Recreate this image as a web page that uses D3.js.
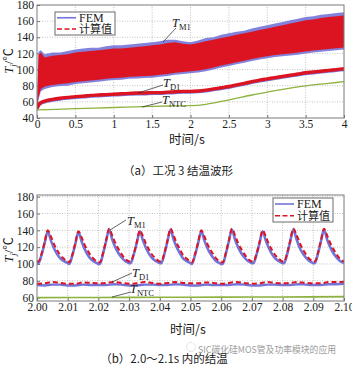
<!DOCTYPE html>
<html>
<head>
<meta charset="utf-8">
<script src="https://cdn.jsdelivr.net/npm/d3@7"></script>
<style>
body { margin: 0; background: #fff; }
text { font-family: "Liberation Serif", "Noto Sans CJK SC", serif; fill: #1a1a1a; }
.cn { font-family: "Noto Sans CJK SC", sans-serif; }
</style>
</head>
<body>
<script>
// ---------- (a) working condition 3, 0-4 s ----------
var timeA = [0, 0.02, 0.05, 0.1, 0.2, 0.3, 0.4, 0.5, 0.6, 0.7, 0.8, 0.9, 1.0, 1.1, 1.2, 1.3, 1.4, 1.5,
             1.6, 1.7, 1.8, 1.9, 2.0, 2.1, 2.2, 2.3, 2.4, 2.5, 2.6, 2.7, 2.8, 2.9, 3.0, 3.1, 3.2, 3.3,
             3.4, 3.5, 3.6, 3.7, 3.8, 3.9, 4.0];
// envelope of the MOSFET junction temperature ripple
var m1CalcHi = [52, 118, 121, 115, 117, 118, 119, 121, 122, 123, 124, 125, 126, 126, 127, 128, 129, 130,
                131, 133, 134, 132, 131, 133, 135, 137, 139, 141, 143, 145, 147, 149, 151, 153, 155, 157,
                159, 161, 162, 164, 165, 166, 167];
var m1CalcLo = [50, 66, 76, 79, 81, 82, 83, 84.5, 85.5, 86.5, 87.5, 88.5, 89.5, 90, 91, 91.5, 92, 92.5,
                93.5, 94.5, 96, 97, 98, 99, 100.5, 102.5, 105, 107, 109, 111, 113, 115, 116.5, 118, 119, 120,
                121, 122.5, 123.5, 124.5, 125.5, 126.5, 127.5];
var m1FemHi = [53, 122, 124, 119, 121, 121, 123, 125, 126, 127, 127, 129, 130, 130, 131, 132, 133, 134,
               135, 137, 137, 135, 134, 136, 139, 140, 143, 145, 147, 148, 151, 153, 155, 157, 159, 161,
               163, 165, 166, 168, 169, 170, 171];
var m1FemLo = [49, 63, 73, 76, 78.5, 79.5, 80, 82, 83, 84, 85, 86, 87, 87.5, 88.5, 89, 89.5, 90,
               91, 92, 93.5, 94.5, 95.5, 96.5, 98, 100, 102.5, 104.5, 106.5, 108.5, 110.5, 112.5, 114, 115.5, 116.5, 117.5,
               118.5, 120, 121, 122, 123, 124, 125];
var d1Calc = [52, 56, 59, 61, 63, 64.5, 65.5, 66.5, 67, 68, 68.5, 69, 69.5, 70, 70.5, 71, 71, 71.5,
              71.5, 72, 72.5, 73, 73, 73.5, 74.5, 76, 77.5, 79, 81, 83, 85, 87, 88.5, 90, 91.5, 93,
              94.5, 96, 97, 98, 99, 100, 101];
var d1Fem = [51, 54.5, 57.5, 59.5, 61.5, 63, 64, 65, 65.5, 66.5, 67, 67.5, 68, 68.5, 69, 69.5, 69.5, 70,
             70, 70.5, 71, 71.5, 71.5, 72, 73, 74.5, 76, 77.5, 79.5, 81.5, 83.5, 85.5, 87, 88.5, 90, 91.5,
             93, 94.5, 95.5, 96.5, 97.5, 98.5, 99.5];
var ntcTimeA = [0, 0.5, 1.0, 1.5, 1.8, 2.0, 2.2, 2.4, 2.6, 2.8, 3.0, 3.2, 3.4, 3.6, 3.8, 4.0];
var ntcA = [50, 51.5, 53, 54.5, 55, 55.3, 57, 60.5, 64.5, 68.5, 72, 75.5, 78.5, 81, 83, 85];

var xTicksA = [0, 0.5, 1.0, 1.5, 2.0, 2.5, 3.0, 3.5, 4.0];
var yTicksA = [40, 60, 80, 100, 120, 140, 160, 180];

// ---------- (b) zoom 2.00-2.10 s ----------
var periodStart = [2.00, 2.01, 2.02, 2.03, 2.04, 2.05, 2.06, 2.07, 2.08, 2.09];
var m1Offset = [0, 0.0005, 0.0015, 0.0025, 0.0035, 0.0045, 0.0055, 0.0065, 0.0075, 0.0085, 0.0095];
var m1CalcB = [
  [103, 103, 112, 126, 140, 133, 124, 117, 111, 107, 104],
  [103, 102, 111, 125, 139, 132, 123, 116, 110, 106, 103],
  [102, 102, 113, 128, 142, 134, 125, 118, 112, 107, 104],
  [103, 103, 112, 126, 140, 133, 124, 117, 111, 107, 104],
  [103, 103, 113, 128, 142, 134, 125, 118, 111, 107, 104],
  [103, 102, 112, 126, 140, 133, 124, 117, 111, 106, 103],
  [102, 102, 113, 128, 142, 134, 125, 118, 112, 107, 104],
  [103, 103, 112, 126, 140, 133, 124, 117, 111, 107, 104],
  [103, 103, 113, 128, 142, 135, 126, 118, 112, 107, 104],
  [103, 103, 113, 128, 142, 134, 125, 118, 112, 107, 104]
];
var m1FemB = [
  [101, 101, 111, 125, 139, 128, 119, 112, 107, 104, 102],
  [101, 100, 110, 124, 138, 127, 118, 111, 106, 103, 101],
  [100, 100, 112, 127, 141, 129, 120, 113, 108, 104, 102],
  [101, 101, 111, 125, 139, 128, 119, 112, 107, 104, 102],
  [101, 101, 112, 127, 141, 129, 120, 113, 107, 104, 102],
  [101, 100, 111, 125, 139, 128, 119, 112, 107, 103, 101],
  [100, 100, 112, 127, 141, 129, 120, 113, 108, 104, 102],
  [101, 101, 111, 125, 139, 128, 119, 112, 107, 104, 102],
  [101, 101, 112, 127, 141, 130, 120, 113, 108, 104, 102],
  [101, 101, 112, 127, 141, 129, 120, 113, 108, 104, 102]
];
var m1CalcEnd = 103, m1FemEnd = 101;
var d1Offset = [0, 0.0025, 0.005, 0.0075];
var d1CalcB = [
  [76.5, 77, 78.5, 77.5], [76.5, 76.5, 78, 77.5], [77, 77.5, 78.5, 77.5], [76.5, 77, 78.5, 77.5],
  [76.5, 77.5, 78.5, 77.5], [77, 77, 78, 77.5], [76.5, 77.5, 78.5, 77.5], [76.5, 77, 78.5, 77.5],
  [77, 77.5, 78.5, 77.5], [77, 77, 78.5, 78.5]
];
var d1FemB = [
  [75, 74.5, 75.5, 75.5], [74.5, 74.5, 75.5, 75], [75, 75, 76, 75.5], [74.5, 74.5, 75.5, 75.5],
  [75, 75, 76, 75.5], [74.5, 74.5, 75.5, 75], [75, 75, 76, 75.5], [74.5, 74.5, 75.5, 75.5],
  [75, 75, 76, 75.5], [75, 75, 76, 76]
];
var d1CalcEnd = 79, d1FemEnd = 76.5;
var ntcTimeB = [2.00, 2.02, 2.04, 2.06, 2.08, 2.10];
var ntcB = [60, 60.2, 60.4, 60.6, 60.8, 61.2];

var xTicksB = [2.00, 2.01, 2.02, 2.03, 2.04, 2.05, 2.06, 2.07, 2.08, 2.09, 2.10];
var yTicksB = [60, 80, 100, 120, 140, 160, 180];

var RED = "#dc1422", BLUE = "#7474d8", GREEN = "#8db23e";

var svg = d3.select("body").append("svg")
    .attr("width", 352)
    .attr("height", 365);

function zip(t, v) { return t.map(function(d, i) { return [d, v[i]]; }); }

function periodic(offs, rows, endT, endV) {
    var pts = [];
    periodStart.forEach(function(p, k) {
        offs.forEach(function(o, j) { pts.push([p + o, rows[k][j]]); });
    });
    pts.push([endT, endV]);
    return pts;
}

function frame(x, y, xTicks, yTicks, fmt) {
    var g = svg.append("g");
    var x0 = x.range()[0], x1 = x.range()[1], y0 = y.range()[0], y1 = y.range()[1];
    g.append("rect").attr("x", x0).attr("y", y1).attr("width", x1 - x0).attr("height", y0 - y1)
        .attr("fill", "#fff");
    g.selectAll(".gx").data(xTicks.slice(1, -1)).enter().append("line")
        .attr("x1", x).attr("x2", x).attr("y1", y0).attr("y2", y1)
        .attr("stroke", "#b4b4b4").attr("stroke-width", 0.8).attr("stroke-dasharray", "1,1.5");
    g.selectAll(".gy").data(yTicks.filter(function(d) { return y(d) > y1 + 1 && y(d) < y0 - 1; })).enter().append("line")
        .attr("y1", y).attr("y2", y).attr("x1", x0).attr("x2", x1)
        .attr("stroke", "#b4b4b4").attr("stroke-width", 0.8).attr("stroke-dasharray", "1,1.5");

    var ax = svg.append("g").attr("transform", "translate(0," + y0 + ")")
        .call(d3.axisBottom(x).tickValues(xTicks).tickFormat(fmt).tickSize(-3).tickPadding(2));
    var ay = svg.append("g").attr("transform", "translate(" + x0 + ",0)")
        .call(d3.axisLeft(y).tickValues(yTicks).tickSize(-3).tickPadding(3));
    [ax, ay].forEach(function(a) {
        a.select(".domain").remove();
        a.selectAll("line").attr("stroke", "#707070");
        a.selectAll("text").attr("font-size", 11.5);
    });
    return g;
}

function border(x, y) {
    svg.append("rect")
        .attr("x", x.range()[0]).attr("y", y.range()[1])
        .attr("width", x.range()[1] - x.range()[0]).attr("height", y.range()[0] - y.range()[1])
        .attr("fill", "none").attr("stroke", "#7a7a7a").attr("stroke-width", 1);
}

function clip(id, x, y) {
    svg.append("clipPath").attr("id", id).append("rect")
        .attr("x", x.range()[0]).attr("y", y.range()[1])
        .attr("width", x.range()[1] - x.range()[0]).attr("height", y.range()[0] - y.range()[1]);
    return svg.append("g").attr("clip-path", "url(#" + id + ")");
}

function yLabel(cx, cy) {
    var t = svg.append("text").attr("transform", "translate(" + cx + "," + cy + ") rotate(-90)")
        .attr("text-anchor", "middle").attr("font-size", 12.5);
    t.append("tspan").attr("font-style", "italic").text("T");
    t.append("tspan").attr("font-style", "italic").attr("font-size", 9).attr("dy", 3).text("j");
    t.append("tspan").attr("dy", -3).text("/℃");
}

function tag(x1, y1, x2, y2, tx, ty, sub) {
    svg.append("line").attr("x1", x1).attr("y1", y1).attr("x2", x2).attr("y2", y2)
        .attr("stroke", "#222").attr("stroke-width", 0.7);
    var t = svg.append("text").attr("x", tx).attr("y", ty).attr("font-size", 12.5);
    t.append("tspan").attr("font-style", "italic").text("T");
    t.append("tspan").attr("font-size", 8.5).attr("dy", 2.5).text(sub);
}

function legend(x0, y0, w, h) {
    var g = svg.append("g");
    g.append("rect").attr("x", x0).attr("y", y0).attr("width", w).attr("height", h)
        .attr("fill", "#fff").attr("stroke", "#6a6a6a").attr("stroke-width", 1);
    var r1 = y0 + h * 0.25, r2 = y0 + h * 0.74;
    g.append("line").attr("x1", x0 + 2).attr("x2", x0 + 21).attr("y1", r1).attr("y2", r1)
        .attr("stroke", BLUE).attr("stroke-width", 1.6);
    g.append("line").attr("x1", x0 + 2).attr("x2", x0 + 21).attr("y1", r2).attr("y2", r2)
        .attr("stroke", RED).attr("stroke-width", 1.6).attr("stroke-dasharray", "5,2.5");
    g.append("text").attr("x", x0 + 24).attr("y", r1 + 4).attr("font-size", 12).text("FEM");
    g.append("text").attr("class", "cn").attr("x", x0 + 24).attr("y", r2 + 4).attr("font-size", 11).text("计算值");
}

// ---------------- panel (a) ----------------
var xA = d3.scaleLinear().domain([0, 4]).range([37, 344]);
var yA = d3.scaleLinear().domain([40, 180]).range([118, 5]);
frame(xA, yA, xTicksA, yTicksA, d3.format(".1~f"));
var pa = clip("ca", xA, yA);

var band = function(hi, lo) {
    return d3.area().x(function(d, i) { return xA(timeA[i]); })
        .y0(function(d, i) { return yA(lo[i]); }).y1(function(d, i) { return yA(hi[i]); })(timeA);
};
pa.append("path").attr("d", band(m1FemHi, m1FemLo)).attr("fill", BLUE).attr("opacity", 0.9);
pa.append("path").attr("d", band(m1CalcHi, m1CalcLo)).attr("fill", RED);

var lineA = d3.line().x(function(d) { return xA(d[0]); }).y(function(d) { return yA(d[1]); }).curve(d3.curveMonotoneX);
pa.append("path").attr("d", lineA(zip(ntcTimeA, ntcA))).attr("fill", "none").attr("stroke", GREEN).attr("stroke-width", 1.3);
pa.append("path").attr("d", lineA(zip(timeA, d1Fem))).attr("fill", "none").attr("stroke", BLUE).attr("stroke-width", 2.4);
pa.append("path").attr("d", lineA(zip(timeA, d1Calc))).attr("fill", "none").attr("stroke", RED).attr("stroke-width", 3.4);
border(xA, yA);

legend(55, 12, 60, 23);
tag(163, 42, 176, 28, 172, 27, "M1");
tag(138, 93, 163, 85, 163, 87, "D1");
tag(142, 107, 162, 102, 162, 104, "NTC");
yLabel(13, 61);
svg.append("text").attr("class", "cn").attr("x", 187).attr("y", 144).attr("text-anchor", "middle")
    .attr("font-size", 12.5).text("时间/s");
svg.append("text").attr("class", "cn").attr("x", 178).attr("y", 175).attr("text-anchor", "middle")
    .attr("font-size", 11.5).text("（a）工况 3 结温波形");

// ---------------- panel (b) ----------------
var xB = d3.scaleLinear().domain([2.0, 2.1]).range([37, 344]);
var yB = d3.scaleLinear().domain([56, 182]).range([301, 195]);
frame(xB, yB, xTicksB, yTicksB, d3.format(".2f"));
var pb = clip("cb", xB, yB);
var lineB = d3.line().x(function(d) { return xB(d[0]); }).y(function(d) { return yB(d[1]); }).curve(d3.curveMonotoneX);

pb.append("path").attr("d", lineB(zip(ntcTimeB, ntcB))).attr("fill", "none").attr("stroke", GREEN).attr("stroke-width", 1.6);
pb.append("path").attr("d", lineB(periodic(d1Offset, d1FemB, 2.10, d1FemEnd)))
    .attr("fill", "none").attr("stroke", BLUE).attr("stroke-width", 2.4);
pb.append("path").attr("d", lineB(periodic(d1Offset, d1CalcB, 2.10, d1CalcEnd)))
    .attr("fill", "none").attr("stroke", RED).attr("stroke-width", 2).attr("stroke-dasharray", "5,3");
pb.append("path").attr("d", lineB(periodic(m1Offset, m1FemB, 2.10, m1FemEnd)))
    .attr("fill", "none").attr("stroke", BLUE).attr("stroke-width", 2.6);
pb.append("path").attr("d", lineB(periodic(m1Offset, m1CalcB, 2.10, m1CalcEnd)))
    .attr("fill", "none").attr("stroke", RED).attr("stroke-width", 2).attr("stroke-dasharray", "5,3");
border(xB, yB);

legend(273, 198, 60, 24);
tag(110, 230, 126, 220, 127, 225, "M1");
tag(112, 282, 132, 273, 132, 277, "D1");
tag(112, 297, 131, 292, 130, 293, "NTC");
yLabel(13, 250);
svg.append("text").attr("class", "cn").attr("x", 188).attr("y", 334).attr("text-anchor", "middle")
    .attr("font-size", 12.5).text("时间/s");

// watermark
svg.append("circle").attr("cx", 191).attr("cy", 347).attr("r", 4.5)
    .attr("fill", "none").attr("stroke", "#c8c8c8").attr("stroke-width", 0.8).attr("stroke-dasharray", "1.5,1");
svg.append("text").attr("class", "cn").attr("x", 198).attr("y", 353).attr("font-size", 9.5)
    .attr("textLength", 138).attr("lengthAdjust", "spacingAndGlyphs")
    .style("fill", "#9c9c9c").text("SIC碳化硅MOS管及功率模块的应用");
svg.append("text").attr("class", "cn").attr("x", 164).attr("y", 363).attr("text-anchor", "middle")
    .attr("font-size", 11.5).text("（b）2.0～2.1s 内的结温");
</script>
</body>
</html>
